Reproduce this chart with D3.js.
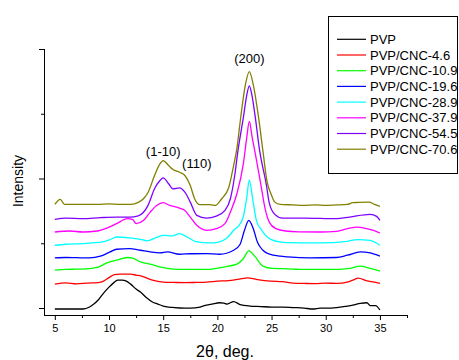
<!DOCTYPE html>
<html>
<head>
<meta charset="utf-8">
<script src="https://cdn.jsdelivr.net/npm/d3@7"></script>
<style>
  html, body { margin: 0; padding: 0; background: #fff; }
  svg { display: block; font-family: Arial, "Liberation Sans", sans-serif; }
</style>
</head>
<body>
<svg id="chart" width="459" height="360"></svg>
<script>
// ---- data (2θ in degrees, intensity in arbitrary units, curves offset vertically) ----
const seriesNames = ["PVP", "PVP/CNC-4.6", "PVP/CNC-10.9", "PVP/CNC-19.6", "PVP/CNC-28.9", "PVP/CNC-37.9", "PVP/CNC-54.5", "PVP/CNC-70.6"];
const seriesColors = ["#000000", "#ff0000", "#00ff00", "#0000ff", "#00ffff", "#ff00ff", "#8000ff", "#808000"];

const pvp = [[5,-1],[6,-1],[7,-1],[7.6,-1],[8.2,1],[8.6,4],[9,8],[9.5,15],[10,21],[10.4,25],[10.8,28],[11.2,28],[11.6,27],[12,24],[12.5,19],[12.9,16],[13.5,10],[14,6],[14.5,4],[15,2],[15.5,1],[16,0.5],[17,0],[17.5,0],[18.4,1],[19,3],[19.5,4],[20.2,5.3],[20.6,5],[20.9,4],[21.5,6.5],[22.1,3.5],[23,2],[24,1.5],[25,1],[26,1],[27,0.5],[28,0],[28.8,-1],[29.5,0],[30.5,0],[31,0.3],[32,2],[32.5,3],[33.2,4.7],[33.8,5.3],[34.1,2.5],[34.6,2.5],[35,-2]];
const cnc46 = [[5,24],[6,25.3],[7,24.3],[8,25],[9,25.5],[9.5,27],[10,30.5],[10.5,33.5],[11,34],[12,34],[12.5,33],[13,32],[13.5,30],[14,28],[15,26],[16,25.7],[17,25.5],[18,25.7],[19,26],[20,27],[21,27.5],[22,29],[22.8,30.3],[23.5,29],[24,28],[25,27],[26,26.5],[27,25],[28,24.7],[29,24.5],[30,25],[31,24.7],[32,26],[32.5,28],[33,30],[33.8,27.3],[34.5,26],[35,24.7]];
const cnc109 = [[5,38],[6,38.7],[7,39],[8,39.3],[9,41],[9.8,45.3],[10.7,48],[11.7,50.7],[12.2,50],[12.9,46.3],[13.8,44],[14.7,41.3],[15.4,39.7],[16,39],[17,38.8],[18,38.8],[19,38.7],[20,40],[21,42],[21.8,44],[22.4,49.7],[22.9,57.3],[23.5,51.3],[24.2,42],[25.1,39.7],[26,39.5],[27,39],[28,38.7],[29,38.7],[30,38.7],[31,38.7],[32.2,39.7],[33.2,42],[34.1,39.7],[35,37]];
const cnc196 = [[5,50.3],[6,50.7],[7,50.5],[8.2,50.3],[9.2,52],[10.1,56.3],[10.7,59],[11.9,59.7],[12.9,58],[13.8,56.3],[14.7,55.3],[15.4,56.3],[16.5,54],[17.5,54.5],[19,54.7],[20.2,54],[21.5,58],[22.1,64],[22.5,78],[22.9,88],[23.3,80],[23.7,66],[24.2,58],[24.8,54],[25.8,52],[26.5,51.3],[28.5,50.3],[31,50.7],[32,53],[33.2,56.3],[34.1,55.3],[35,52]];
const cnc289 = [[5,63],[6,64],[7.5,64.7],[9.4,66.3],[10.1,68.7],[10.7,71.3],[11.9,70.5],[12.9,69],[13.5,67.5],[14.4,71],[15,73],[15.9,72.5],[16.5,74.7],[17.2,71.3],[18.1,66.3],[19.3,65.3],[20.2,66.5],[20.85,70],[21.6,79],[22,83],[22.4,92],[22.7,110],[22.95,128.7],[23.25,110],[23.6,88],[24.1,78],[24.8,69.7],[25.8,66.3],[26.4,65.7],[29.5,65.3],[32,67],[32.9,68.7],[34.1,68],[35,63]];
const cnc379 = [[5,76.3],[6.4,77.3],[7.6,76.3],[8.9,77.3],[9.8,80.3],[10.7,84.7],[11.7,89.7],[12.2,88.7],[12.5,84.7],[13.2,88],[13.8,96.3],[14.4,103],[15,105.7],[15.6,103],[16.5,100.3],[17,98],[17.5,91.3],[18.1,83],[19,78],[19.9,79.7],[20.7,84.7],[21.2,96.3],[21.8,114.7],[22.4,145],[22.7,170],[22.95,187.3],[23.2,172],[23.5,155],[24,124.7],[24.4,100],[24.8,86],[25.4,79.7],[26.3,77.3],[27.5,76.5],[29.5,76.3],[31,77],[32,79.7],[32.9,81.3],[33.8,79.7],[34.4,78],[35,75.3]];
const cnc545 = [[5,89],[6,90.3],[7.6,89.7],[9.2,90.7],[10.7,91.3],[11.9,91.3],[12.7,92.5],[13.6,103],[14.2,119.7],[14.7,128],[15,130.7],[15.5,124.7],[15.9,119.7],[16.5,120.7],[17,116.3],[17.5,106.3],[18.1,93],[19,90.3],[19.9,92.3],[20.7,98],[21.2,109.7],[21.6,133],[21.9,158],[22.4,191.3],[22.7,213],[22.95,223],[23.2,213],[23.5,191.3],[23.9,158],[24.5,125],[24.8,105],[25.3,94],[26,90.3],[28,90.3],[31,89.7],[32.2,91.3],[34.1,94],[34.7,92],[35,88]];
const cnc706 = [[5,104],[5.5,109],[5.9,104],[7,104],[8,104],[9,104],[10,104.5],[11,104],[12,104],[12.7,106],[13.2,110],[13.6,116],[14.2,133],[14.7,144.7],[15,148],[15.5,143],[15.9,139],[16.5,136.3],[17,133],[17.5,123],[17.9,109.7],[18.4,103.7],[19.3,103.7],[19.8,103],[20.4,109.7],[21.05,121],[21.5,143],[21.8,160],[22.15,191],[22.6,225],[22.95,237.3],[23.3,224.7],[23.8,191.3],[24.2,158],[24.6,126],[24.9,116],[25.3,106.3],[25.8,104],[27,103.5],[28,103],[29,103.5],[30,103],[31,103.5],[32,104],[32.5,105.7],[33,106],[34,106.3],[34.5,104],[35,102]];
const seriesData = [pvp, cnc46, cnc109, cnc196, cnc289, cnc379, cnc545, cnc706];

const xMajorTicks = [5, 10, 15, 20, 25, 30, 35];
const xMinorTicks = [7.5, 12.5, 17.5, 22.5, 27.5, 32.5, 37.5];
const yMajorTicks = [0, 130, 260];
const yMinorTicks = [65, 195];

const peakLabels = ["(1-10)", "(110)", "(200)"];
const peakLabelX = [15, 18.1, 22.95];
const peakLabelY = [153, 141, 246];

// ---- layout ----
const svg = d3.select("#chart");
const mLeft = 44, mRight = 407, mTop = 49, mBottom = 315;

const x = d3.scaleLinear().domain([4, 37.5]).range([mLeft, mRight]);
const y = d3.scaleLinear().domain([-7, 260]).range([mBottom, mTop]);

// axes
const xAxisMajor = d3.axisBottom(x).tickValues(xMajorTicks).tickSize(5).tickSizeOuter(0).tickPadding(4).tickFormat(d3.format("d"));
const xAxisMinor = d3.axisBottom(x).tickValues(xMinorTicks).tickSize(3).tickSizeOuter(0).tickFormat("");
const gx = svg.append("g").attr("transform", `translate(0,${mBottom})`).call(xAxisMajor);
const gx2 = svg.append("g").attr("transform", `translate(0,${mBottom})`).call(xAxisMinor);
gx2.select(".domain").remove();
gx.select(".domain").attr("d", `M${mLeft},0.5H${mRight}`);

const yAxisMajor = d3.axisLeft(y).tickValues(yMajorTicks).tickSize(5).tickSizeOuter(0).tickFormat("");
const yAxisMinor = d3.axisLeft(y).tickValues(yMinorTicks).tickSize(3).tickSizeOuter(0).tickFormat("");
const gy = svg.append("g").attr("transform", `translate(${mLeft},0)`).call(yAxisMajor);
const gy2 = svg.append("g").attr("transform", `translate(${mLeft},0)`).call(yAxisMinor);
gy2.select(".domain").remove();
gy.select(".domain").attr("d", `M0.5,${mTop}V${mBottom}`);

svg.selectAll(".domain, .tick line").attr("stroke", "#000").attr("stroke-width", 1);
gx.selectAll(".tick text").attr("font-size", 11).attr("fill", "#000").attr("font-family", "Arial, 'Liberation Sans', sans-serif");

// axis titles
svg.append("text").attr("x", 225).attr("y", 357).attr("text-anchor", "middle")
  .attr("font-size", 16).attr("fill", "#000").text("2θ, deg.");
svg.append("text").attr("transform", "translate(23,181) rotate(-90)").attr("text-anchor", "middle")
  .attr("font-size", 14).attr("fill", "#000").text("Intensity");

// curves
const line = d3.line().x(d => x(d[0])).y(d => y(d[1])).curve(d3.curveMonotoneX);
svg.append("g").selectAll("path").data(seriesData).join("path")
  .attr("d", line).attr("fill", "none")
  .attr("stroke", (d, i) => seriesColors[i]).attr("stroke-width", 1.3)
  .attr("stroke-linejoin", "round");

// peak labels
svg.append("g").selectAll("text").data(peakLabels).join("text")
  .attr("x", (d, i) => x(peakLabelX[i])).attr("y", (d, i) => y(peakLabelY[i]))
  .attr("text-anchor", "middle").attr("font-size", 13).attr("fill", "#000")
  .text(d => d);

// legend
const lg = svg.append("g");
lg.append("rect").attr("x", 328.5).attr("y", 16.5).attr("width", 129).attr("height", 157)
  .attr("fill", "#fff").attr("stroke", "#000").attr("stroke-width", 1);
const items = lg.selectAll("g.item").data(seriesNames).join("g").attr("class", "item")
  .attr("transform", (d, i) => `translate(0,${39.3 + i * 15.7})`);
items.append("line").attr("x1", 337).attr("x2", 366).attr("y1", 0).attr("y2", 0)
  .attr("stroke", (d, i) => seriesColors[i]).attr("stroke-width", 1.2);
items.append("text").attr("x", 370).attr("y", 0).attr("dy", "0.36em")
  .attr("font-size", 13).attr("fill", "#000").text(d => d);
</script>
</body>
</html>
